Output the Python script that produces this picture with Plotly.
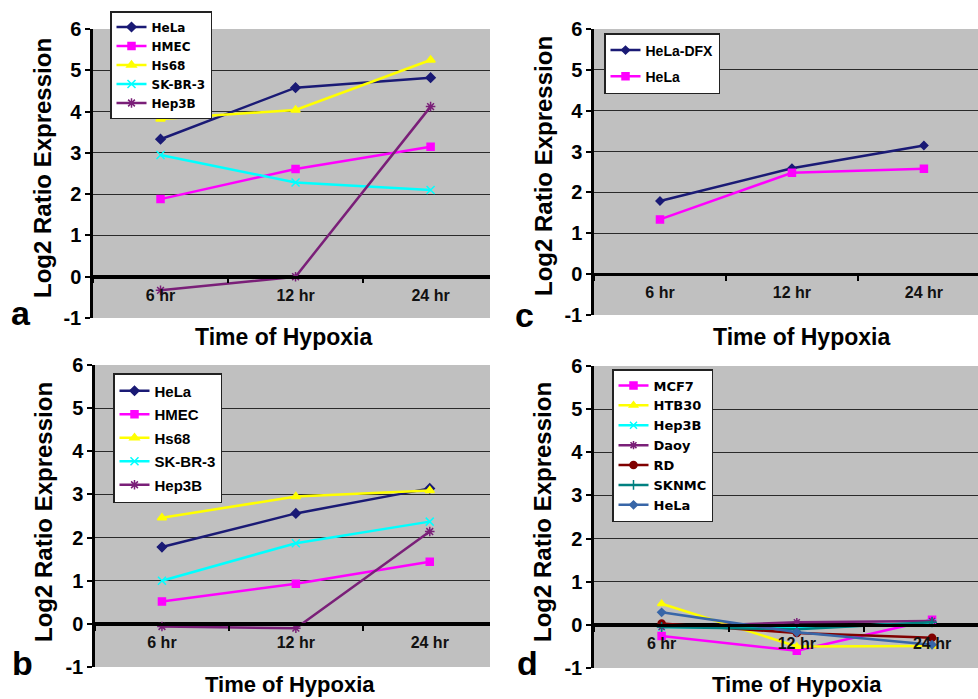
import plotly.graph_objects as go

W, H = 978, 699

times = ["6 hr", "12 hr", "24 hr"]

# Panel a
a_names = ["HeLa", "HMEC", "Hs68", "SK-BR-3", "Hep3B"]
a_hela = [3.33, 4.58, 4.82]
a_hmec = [1.88, 2.61, 3.15]
a_hs68 = [3.82, 4.04, 5.25]
a_skbr3 = [2.95, 2.28, 2.10]
a_hep3b = [-0.33, 0.0, 4.12]

# Panel b
b_names = ["HeLa", "HMEC", "Hs68", "SK-BR-3", "Hep3B"]
b_hela = [1.78, 2.56, 3.14]
b_hmec = [0.52, 0.93, 1.44]
b_hs68 = [2.46, 2.95, 3.09]
b_skbr3 = [1.00, 1.87, 2.37]
b_hep3b = [-0.06, -0.10, 2.14]

# Panel c
c_names = ["HeLa-DFX", "HeLa"]
c_heladfx = [1.79, 2.59, 3.15]
c_hela = [1.34, 2.48, 2.58]

# Panel d
d_names = ["MCF7", "HTB30", "Hep3B", "Daoy", "RD", "SKNMC", "HeLa"]
d_mcf7 = [-0.26, -0.60, 0.12]
d_htb30 = [0.49, -0.50, -0.49]
d_hep3b = [-0.05, -0.08, 0.05]
d_daoy = [-0.05, 0.06, 0.09]
d_rd = [0.03, -0.19, -0.30]
d_sknmc = [-0.05, -0.10, 0.06]
d_hela = [0.29, -0.17, -0.46]

y_ticks = [-1, 0, 1, 2, 3, 4, 5, 6]

NAVY = "#1a1a75"
MAG = "#ff00ff"
YEL = "#ffff00"
CYA = "#00ffff"
PUR = "#7a1f78"
DRED = "#800000"
TEAL = "#008080"
STEEL = "#3866a8"

ARIAL = "Liberation Sans, Arial, sans-serif"
NARROW = "Liberation Sans Narrow, Arial Narrow, Liberation Sans, sans-serif"
DEJA = "DejaVu Sans, Verdana, sans-serif"


def px_x(x):
    return x / W


def px_y(y):
    return 1 - y / H


fig = go.Figure()


def add(vals, name, color, symbol, size, xa, ya, leg, group):
    fig.add_trace(go.Scatter(
        x=times, y=vals, name=name, mode="lines+markers",
        line=dict(color=color, width=2.5),
        marker=dict(color=color, symbol=symbol, size=size,
                    line=dict(color=color, width=1.5)),
        xaxis=xa, yaxis=ya, legend=leg, legendgroup=group,
    ))


# panel a -> x/y, legend
add(a_hela, a_names[0], NAVY, "diamond", 7, "x", "y", "legend", "a0")
add(a_hmec, a_names[1], MAG, "square", 7, "x", "y", "legend", "a1")
add(a_hs68, a_names[2], YEL, "triangle-up", 8, "x", "y", "legend", "a2")
add(a_skbr3, a_names[3], CYA, "x-thin-open", 8, "x", "y", "legend", "a3")
add(a_hep3b, a_names[4], PUR, "asterisk-open", 8, "x", "y", "legend", "a4")

# panel c -> x2/y2, legend2
add(c_heladfx, c_names[0], NAVY, "diamond", 6, "x2", "y2", "legend2", "c0")
add(c_hela, c_names[1], MAG, "square", 7, "x2", "y2", "legend2", "c1")

# panel b -> x3/y3, legend3
add(b_hela, b_names[0], NAVY, "diamond", 7, "x3", "y3", "legend3", "b0")
add(b_hmec, b_names[1], MAG, "square", 7, "x3", "y3", "legend3", "b1")
add(b_hs68, b_names[2], YEL, "triangle-up", 8, "x3", "y3", "legend3", "b2")
add(b_skbr3, b_names[3], CYA, "x-thin-open", 8, "x3", "y3", "legend3", "b3")
add(b_hep3b, b_names[4], PUR, "asterisk-open", 8, "x3", "y3", "legend3", "b4")

# panel d -> x4/y4, legend4
add(d_mcf7, d_names[0], MAG, "square", 7, "x4", "y4", "legend4", "d0")
add(d_htb30, d_names[1], YEL, "triangle-up", 7, "x4", "y4", "legend4", "d1")
add(d_hep3b, d_names[2], CYA, "x-thin-open", 7, "x4", "y4", "legend4", "d2")
add(d_daoy, d_names[3], PUR, "asterisk-open", 7, "x4", "y4", "legend4", "d3")
add(d_rd, d_names[4], DRED, "circle", 7, "x4", "y4", "legend4", "d4")
add(d_sknmc, d_names[5], TEAL, "cross-thin-open", 7, "x4", "y4", "legend4", "d5")
add(d_hela, d_names[6], STEEL, "diamond", 6, "x4", "y4", "legend4", "d6")

# panel geometry: (x_left, x_right, y_top, y_bottom, x_range_right)
panels = {
    "": (93, 490, 29, 318, 2.44),
    "2": (594, 978, 29, 315, 2.41),
    "3": (95, 490, 365, 667, 2.45),
    "4": (594, 978, 366, 668, 2.34),
}

layout = dict(
    width=W, height=H,
    margin=dict(l=0, r=0, t=0, b=0, autoexpand=False),
    paper_bgcolor="white",
    plot_bgcolor="#c0c0c0",
    showlegend=True,
)

for k, (xl, xr, yt, yb, xrr) in panels.items():
    yd = [px_y(yb), px_y(yt)]
    zero_pos = yd[0] + (0 - (-1)) / 7 * (yd[1] - yd[0])
    layout["xaxis" + k] = dict(
        domain=[px_x(xl), px_x(xr)],
        range=[-0.5, xrr],
        type="category",
        anchor="free", position=zero_pos,
        automargin=False,
        showline=True, linecolor="black", linewidth=2.5,
        ticks="outside", tickson="boundaries", ticklen=5, tickwidth=2,
        tickcolor="black",
        showgrid=False, zeroline=False,
        tickfont=dict(family=NARROW, size=16, color="#111", weight="bold"),
        ticklabelstandoff=3,
        fixedrange=True,
    )
    layout["yaxis" + k] = dict(
        domain=yd,
        range=[-1, 6],
        anchor="x" + k,
        automargin=False,
        tickvals=y_ticks,
        ticktext=[str(v) for v in y_ticks],
        showline=True, linecolor="black", linewidth=2.5,
        ticks="outside", ticklen=5, tickwidth=2, tickcolor="black",
        showgrid=True, gridcolor="#2a2a2a", gridwidth=1,
        zeroline=True, zerolinecolor="black", zerolinewidth=2.5,
        tickfont=dict(family=ARIAL, size=20, color="black", weight="bold"),
        fixedrange=True,
    )

layout["legend"] = dict(
    x=px_x(110), y=px_y(11), xanchor="left", yanchor="top",
    bgcolor="white", bordercolor="#222", borderwidth=1.5,
    font=dict(family=DEJA, size=12, color="black", weight="bold"),
    itemwidth=30, tracegroupgap=0,
)
layout["legend2"] = dict(
    x=px_x(604), y=px_y(33), xanchor="left", yanchor="top",
    bgcolor="white", bordercolor="#222", borderwidth=1.5,
    font=dict(family=NARROW, size=14, color="black", weight="bold"),
    itemwidth=30, tracegroupgap=5,
)
layout["legend3"] = dict(
    x=px_x(113), y=px_y(373), xanchor="left", yanchor="top",
    bgcolor="white", bordercolor="#222", borderwidth=1.5,
    font=dict(family=ARIAL, size=15, color="black", weight="bold"),
    itemwidth=30, tracegroupgap=1,
)
layout["legend4"] = dict(
    x=px_x(612), y=px_y(369), xanchor="left", yanchor="top",
    bgcolor="white", bordercolor="#222", borderwidth=1.5,
    font=dict(family=DEJA, size=13, color="black", weight="bold"),
    itemwidth=30, tracegroupgap=0,
)

annotations = []
# y titles
for (xc, yc) in [(43, 168), (543, 166), (43, 512), (542, 512)]:
    annotations.append(dict(
        text="Log2 Ratio Expression", textangle=-90,
        x=px_x(xc), y=px_y(yc), xref="paper", yref="paper",
        xanchor="center", yanchor="middle", showarrow=False,
        font=dict(family=ARIAL, size=24, color="black", weight="bold"),
    ))
# x titles
for (xc, yc, fs) in [(283, 337, 23), (801, 337, 23), (290, 684, 22), (797, 684, 22)]:
    annotations.append(dict(
        text="Time of Hypoxia",
        x=px_x(xc), y=px_y(yc), xref="paper", yref="paper",
        xanchor="center", yanchor="middle", showarrow=False,
        font=dict(family=ARIAL, size=fs, color="black", weight="bold"),
    ))
# panel letters
for (lab, xc, yc) in [("a", 21, 313), ("c", 524, 315), ("b", 22, 663), ("d", 527, 663)]:
    annotations.append(dict(
        text=lab,
        x=px_x(xc), y=px_y(yc), xref="paper", yref="paper",
        xanchor="center", yanchor="middle", showarrow=False,
        font=dict(family=ARIAL, size=34, color="black", weight="bold"),
    ))
layout["annotations"] = annotations

fig.update_layout(**layout)
fig.write_html(
    "out.html",
    config={"displayModeBar": False},
    post_script="document.body.style.margin='0';document.body.style.overflow='hidden';",
)
